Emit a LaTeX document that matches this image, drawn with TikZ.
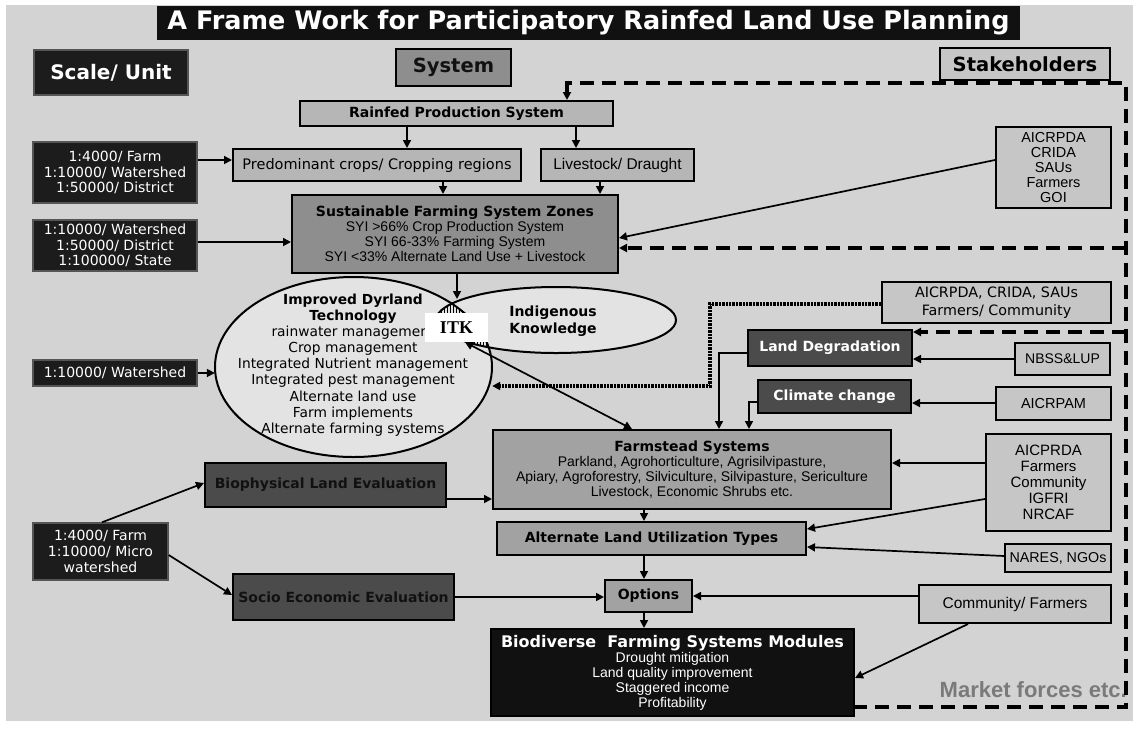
\documentclass[tikz,border=0pt]{standalone}
\usepackage{fontspec}
\setmainfont{DejaVu Sans}
\newfontfamily\dv{DejaVu Sans}
\newfontfamily\nar{Liberation Sans}
\newfontfamily\tnr{Liberation Serif}
\usetikzlibrary{arrows.meta,patterns,shapes.geometric}
\newcommand\myfs[2]{\fontsize{#1}{#2}\selectfont}
\definecolor{bgc}{HTML}{D3D3D3}
\definecolor{titlec}{HTML}{111111}
\definecolor{blk}{HTML}{1C1C1C}
\definecolor{midc}{HTML}{8E8E8E}
\definecolor{lightc}{HTML}{B6B6B6}
\definecolor{stkc}{HTML}{C6C6C6}
\definecolor{farmc}{HTML}{A2A2A2}
\definecolor{darkc}{HTML}{4B4B4B}
\definecolor{ellc}{HTML}{E3E3E3}
\definecolor{mktc}{HTML}{7A7A7A}
\definecolor{sclborder}{HTML}{555555}
\begin{document}
\begin{tikzpicture}[x=1pt,y=-1pt,
  bx/.style={draw=black, line width=2pt, inner sep=0pt, align=center},
  sclbox/.style={draw=sclborder, line width=1.4pt, fill=blk, text=white, inner sep=0pt, align=center, font=\myfs{14}{15.5}},
  tipa/.tip={Triangle[length=8pt,width=8pt]},
  arr/.style={line width=1.7pt, -tipa},
  dashln/.style={line width=3.6pt, dash pattern=on 14pt off 8pt},
  dotln/.style={line width=3.4pt, dash pattern=on 2.4pt off 1pt},
]
\useasboundingbox (0,0) rectangle (1138,729);
\fill[white] (0,0) rectangle (1138,729);
\fill[bgc] (6,5) rectangle (1133,721);

% ---------- header ----------
\node[bx, draw=none, fill=titlec, text=white, minimum width=863, minimum height=34, font=\bfseries\myfs{25.5}{28}] (title) at (588.5,23) {A Frame Work for Participatory Rainfed Land Use Planning};
\node[sclbox, minimum width=154, minimum height=45, font=\bfseries\myfs{20}{22}] (scale) at (111,72.5) {Scale/ Unit};
\node[bx, fill=midc, text=titlec, minimum width=115, minimum height=37, font=\bfseries\myfs{19.5}{22}] (system) at (453.5,67.5) {System};
\node[bx, fill=stkc, minimum width=170, minimum height=32, font=\bfseries\myfs{19.5}{22}] (stake) at (1025,64) {Stakeholders};

% ---------- upper part ----------
\node[bx, fill=lightc, minimum width=313, minimum height=25, font=\bfseries\myfs{14}{16}] (rainfed) at (456.5,113.5) {Rainfed Production System};
\node[bx, fill=lightc, minimum width=288, minimum height=32, font=\myfs{14.5}{16}] (pred) at (377,165) {Predominant crops/ Cropping regions};
\node[bx, fill=lightc, minimum width=153, minimum height=32, font=\nar\myfs{15.5}{16}] (live) at (617.5,165) {Livestock/ Draught};
\node[sclbox, minimum width=164, minimum height=61] (scaleA) at (115,172.5) {1:4000/ Farm\\1:10000/ Watershed\\1:50000/ District};
\node[bx, fill=stkc, minimum width=115, minimum height=81, font=\nar\myfs{14.5}{15}] (stk1) at (1053.5,167.5) {AICRPDA\\CRIDA\\SAUs\\Farmers\\GOI};
\node[sclbox, minimum width=164, minimum height=51] (scaleB) at (115,245.5) {1:10000/ Watershed\\1:50000/ District\\1:100000/ State};
\node[bx, fill=midc, minimum width=326, minimum height=78, font=\myfs{14}{15}] (sfsz) at (455,234) {\textbf{Sustainable Farming System Zones}\\{\nar SYI >66\% Crop Production System}\\{\nar SYI 66-33\% Farming System}\\{\nar SYI <33\% Alternate Land Use + Livestock}};

% ---------- ellipses ----------
\fill[ellc] (353.5,367) ellipse [x radius=138.5, y radius=90];
\fill[ellc] (556,320) ellipse [x radius=120, y radius=33];
\begin{scope}
  \clip (353.5,367) ellipse [x radius=138.5, y radius=90];
  \fill[pattern=vertical lines] (556,320) ellipse [x radius=120, y radius=33];
\end{scope}
\draw[line width=2pt] (353.5,367) ellipse [x radius=138.5, y radius=90];
\draw[line width=2pt] (556,320) ellipse [x radius=120, y radius=33];
\node[ellipse, minimum width=277, minimum height=180, inner sep=0pt] (idt) at (353.5,367) {};
\node[ellipse, minimum width=240, minimum height=66, inner sep=0pt] (ik) at (556,320) {};
\node[align=center, inner sep=0pt, font=\myfs{13.8}{16.1}] (idttext) at (353,365) {\textbf{Improved Dyrland}\\\textbf{Technology}\\rainwater management\\Crop management\\Integrated Nutrient management\\Integrated pest management\\Alternate land use\\Farm implements\\Alternate farming systems};
\node[align=center, inner sep=0pt, font=\bfseries\myfs{14}{17}] (iktext) at (553,321) {Indigenous\\Knowledge};
\node[fill=white, inner sep=0pt, minimum width=63, minimum height=29, font=\tnr\bfseries\myfs{18}{18}] (itk) at (456.5,327.5) {ITK};

% ---------- middle right ----------
\node[bx, fill=stkc, minimum width=229, minimum height=41, font=\myfs{14.3}{17.5}] (stk2) at (996.5,302.5) {AICRPDA, CRIDA, SAUs\\Farmers/ Community};
\node[sclbox, minimum width=164, minimum height=26] (scaleC) at (115,373) {1:10000/ Watershed};
\node[bx, fill=darkc, text=white, minimum width=164, minimum height=36, font=\bfseries\myfs{14}{16}] (landdeg) at (830,348) {Land Degradation};
\node[bx, fill=stkc, minimum width=95, minimum height=32, font=\nar\myfs{14}{16}] (nbss) at (1062.5,359) {NBSS\&LUP};
\node[bx, fill=darkc, text=white, minimum width=153, minimum height=33, font=\bfseries\myfs{14}{16}] (climate) at (834.5,396.5) {Climate change};
\node[bx, fill=stkc, minimum width=115, minimum height=33, font=\nar\myfs{14.5}{16}] (aicrpam) at (1053.5,403.5) {AICRPAM};

% ---------- lower part ----------
\node[bx, fill=farmc, minimum width=398, minimum height=79, font=\nar\myfs{14}{15}] (farm) at (692,469.5) {{\dv\bfseries Farmstead Systems}\\Parkland, Agrohorticulture, Agrisilvipasture,\\Apiary, Agroforestry, Silviculture, Silvipasture, Sericulture\\Livestock, Economic Shrubs etc.};
\node[bx, fill=stkc, minimum width=125, minimum height=97, font=\nar\myfs{15}{16}] (aicprda) at (1048.5,482.5) {AICPRDA\\Farmers\\Community\\IGFRI\\NRCAF};
\node[bx, fill=darkc, text=titlec, minimum width=241, minimum height=44, font=\bfseries\myfs{14}{16}] (bio) at (325.5,485) {Biophysical Land Evaluation};
\node[bx, fill=farmc, minimum width=309, minimum height=33, font=\bfseries\myfs{14}{16}] (alut) at (651.5,538.5) {Alternate Land Utilization Types};
\node[sclbox, minimum width=135, minimum height=57, font=\myfs{14}{16}] (micro) at (100.5,551.5) {1:4000/ Farm\\1:10000/ Micro\\watershed};
\node[bx, fill=stkc, minimum width=106, minimum height=28, font=\nar\myfs{14.3}{16}] (nares) at (1058,558) {NARES, NGOs};
\node[bx, fill=darkc, text=titlec, minimum width=221, minimum height=46, font=\bfseries\myfs{14}{16}] (socio) at (343.5,597) {Socio Economic Evaluation};
\node[bx, fill=farmc, minimum width=87, minimum height=32, font=\bfseries\myfs{14}{16}] (options) at (648.5,596) {Options};
\node[bx, fill=stkc, minimum width=192, minimum height=38, font=\nar\myfs{15.5}{16}] (comm) at (1015,604) {Community/ Farmers};
\node[bx, fill=titlec, text=white, minimum width=363, minimum height=87, font=\nar\myfs{14}{15}] (biod) at (672.5,672.5) {{\dv\bfseries\myfs{16}{17}Biodiverse\ \ Farming Systems Modules}\\Drought mitigation\\Land quality improvement\\Staggered income\\Profitability};
\node[anchor=east, inner sep=0pt, text=mktc, font=\nar\bfseries\myfs{22}{24}] (market) at (1127,690) {Market forces etc.};

% ---------- helper coordinates ----------
\coordinate (xa) at (407,0);  \coordinate (xb) at (576,0);
\coordinate (xc) at (443,0);  \coordinate (xd) at (600,0);
\coordinate (xe) at (644,0);  \coordinate (xf) at (719,0);
\coordinate (xg) at (749,0);  \coordinate (xh) at (710,0);
\coordinate (xi) at (632,0);  \coordinate (xj) at (102,0);
\coordinate (xk) at (968,0);  \coordinate (xs) at (457,0);
\coordinate (ya) at (0,160);  \coordinate (yb) at (0,242);
\coordinate (yc) at (0,353);  \coordinate (yd) at (0,402);
\coordinate (ye) at (0,359);  \coordinate (yf) at (0,403);
\coordinate (yg) at (0,463);  \coordinate (yh) at (0,499);
\coordinate (yi) at (0,597);  \coordinate (yj) at (0,596);
\coordinate (yk) at (0,304);  \coordinate (yl) at (0,386);
\coordinate (yn) at (0,238);  \coordinate (yo) at (0,529);
\coordinate (yp) at (0,483);  \coordinate (yq) at (0,555);
\coordinate (yr) at (0,595);  \coordinate (ys) at (0,556);
\coordinate (yt) at (0,547);  \coordinate (yu) at (0,678);
\coordinate (lens) at (457,299);
\coordinate (dTL) at (567,83);
\coordinate (dTR) at (1126,83);
\coordinate (dBR) at (1126,707);
\coordinate (dA) at (1126,248);
\coordinate (dB) at (1126,332);

% ---------- dashed stakeholder line ----------
\draw[dashln, tipa-] (dTL |- rainfed.north) -- (dTL) -- (dTR) -- (dBR) -- (dBR -| biod.east);
\draw[dashln, -tipa] (dA) -- (dA -| sfsz.east);
\draw[dashln, -tipa] (dB) -- (dB -| landdeg.east);

% ---------- connectors ----------
\draw[arr] (xa |- rainfed.south) -- (xa |- pred.north);
\draw[arr] (xb |- rainfed.south) -- (xb |- live.north);
\draw[arr] (xc |- pred.south) -- (xc |- sfsz.north);
\draw[arr] (xd |- live.south) -- (xd |- sfsz.north);
\draw[arr] (scaleA.east |- ya) -- (pred.west |- ya);
\draw[arr] (scaleB.east |- yb) -- (sfsz.west |- yb);
\draw[arr] (stk1.west |- ya) -- (sfsz.east |- yn);
\draw[arr] (xs |- sfsz.south) -- (lens);
\draw[arr] (scaleC.east) -- (scaleC.east -| idt.west);
\draw[dotln, -tipa] (stk2.west |- yk) -| (xh |- yl) -- (idt.east |- yl);
\draw[arr] (landdeg.west |- yc) -| (xf |- farm.north);
\draw[arr] (climate.west |- yd) -| (xg |- farm.north);
\draw[arr] (nbss.west |- ye) -- (landdeg.east |- ye);
\draw[arr] (aicrpam.west |- yf) -- (climate.east |- yf);
\draw[arr, tipa-tipa] ([xshift=8.5pt]itk.south) -- (xi |- farm.north);
\draw[arr] (aicprda.west |- yg) -- (farm.east |- yg);
\draw[arr] (aicprda.west |- yh) -- (alut.east |- yo);
\draw[arr] (bio.east |- yh) -- (farm.west |- yh);
\draw[arr] (micro.north -| xj) -- (bio.west |- yp);
\draw[arr] (micro.east |- yq) -- (socio.west |- yr);
\draw[arr] (xe |- farm.south) -- (xe |- alut.north);
\draw[arr] (nares.west |- ys) -- (alut.east |- yt);
\draw[arr] (xe |- alut.south) -- (xe |- options.north);
\draw[arr] (socio.east |- yi) -- (options.west |- yi);
\draw[arr] (comm.west |- yj) -- (options.east |- yj);
\draw[arr] (xe |- options.south) -- (xe |- biod.north);
\draw[arr] (comm.south -| xk) -- (biod.east |- yu);
\end{tikzpicture}
\end{document}
